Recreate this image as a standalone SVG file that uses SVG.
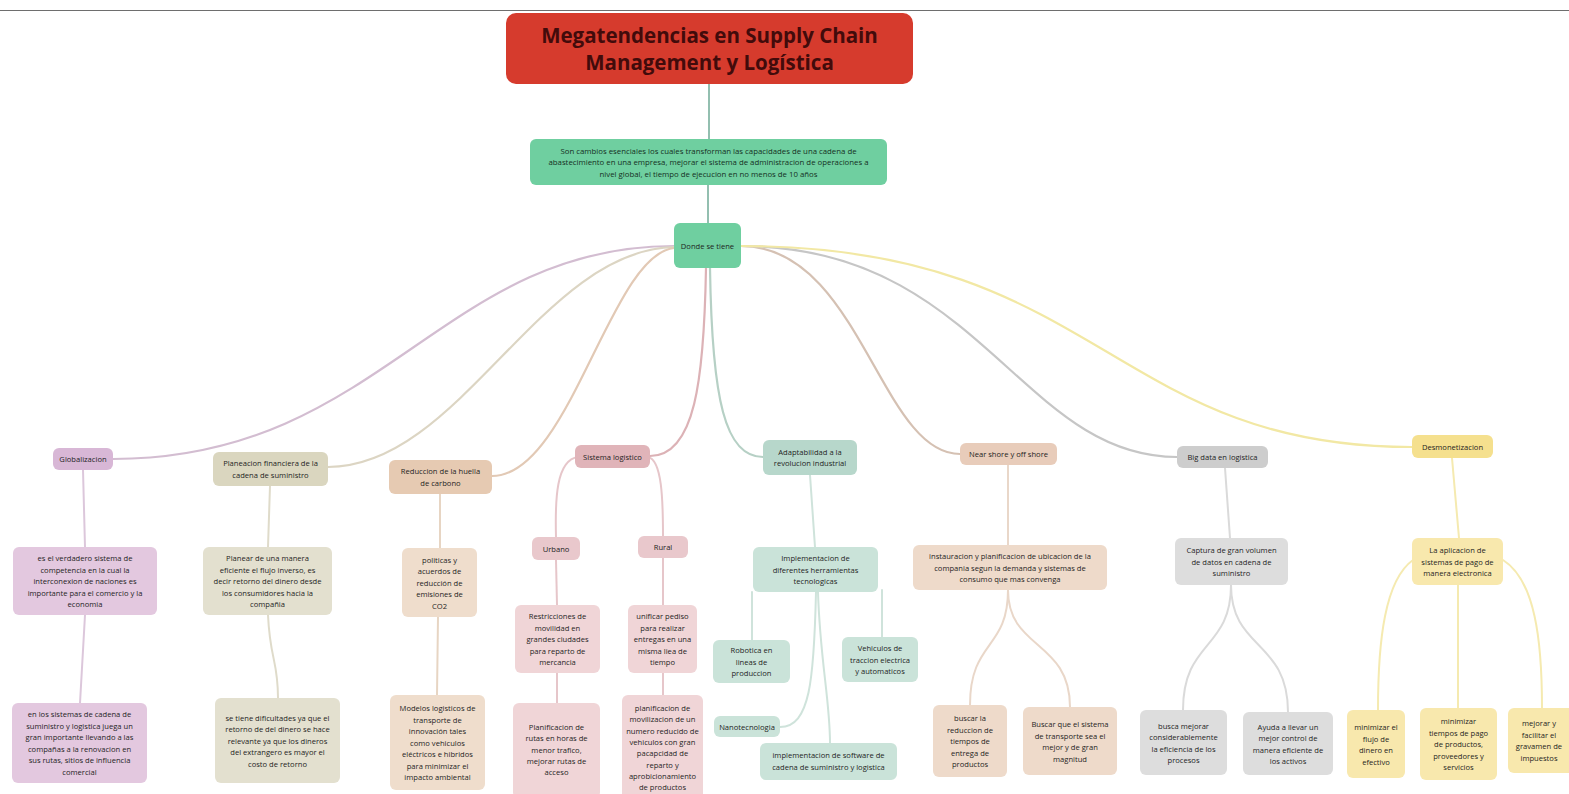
<svg xmlns="http://www.w3.org/2000/svg" width="1569" height="794" viewBox="0 0 1569 794">
<style>
  text { font-family: "Open Sans", "Liberation Sans", sans-serif; fill: #1e1e1e; text-anchor: middle; }
  .t { font-size: 7.6px; }
  .d { font-size: 7.8px; fill: #15301f; }
  .title { font-size: 20.5px; font-weight: bold; fill: #420b0b; }
  .c { fill: none; stroke-linecap: round; }
  .l1 { stroke-width: 2.2; }
  .l2 { stroke-width: 2; }
  .glob1 { fill: #d8b7d6; } .glob2 { fill: #e3c8df; }
  .plan1 { fill: #dad6bf; } .plan2 { fill: #e3e0cf; }
  .red1 { fill: #e6cab2; } .red2 { fill: #efddcc; }
  .sis1 { fill: #e0b4b9; } .sis2 { fill: #e9c8cc; } .sis3 { fill: #f0d5d7; }
  .ad1 { fill: #b7d7cb; } .ad2 { fill: #cae3d9; }
  .ns1 { fill: #e8ccba; } .ns2 { fill: #eedaca; }
  .bd1 { fill: #cdcdcd; } .bd2 { fill: #dddddd; }
  .de1 { fill: #f5e08e; } .de2 { fill: #f8e8ad; }
</style>

<line x1="0" y1="10.5" x2="1569" y2="10.5" stroke="#6e6e6e" stroke-width="1"/>

<g id="connectors">
  <path class="c l2" stroke="#93bfb0" d="M709 84 V139"/>
  <path class="c l2" stroke="#93bfb0" d="M708 185 V223"/>
  <!-- level 1 -->
  <path class="c l1" stroke="#d3bdd1" d="M674 246 C 440 246, 380 459, 113 459"/>
  <path class="c l1" stroke="#dcd5c3" d="M674 247 C 540 250, 460 467, 328 467"/>
  <path class="c l1" stroke="#e2c9b5" d="M674 248 C 610 255, 570 476, 492 476"/>
  <path class="c l1" stroke="#dcb2b6" d="M706 268 C 704 380, 695 456, 650 456"/>
  <path class="c l1" stroke="#b6d0c5" d="M710 268 C 712 400, 725 457, 763 457"/>
  <path class="c l1" stroke="#d5c1b3" d="M741 246 C 860 246, 880 454, 960 454"/>
  <path class="c l1" stroke="#c6c6c6" d="M741 246 C 980 246, 1020 457, 1177 457"/>
  <path class="c l1" stroke="#f2e8a4" d="M741 246 C 1100 246, 1110 447, 1412 447"/>
  <!-- Globalizacion -->
  <path class="c l2" stroke="#dcc7db" d="M83 470 L85 547"/>
  <path class="c l2" stroke="#dcc7db" d="M85 615 L80 703"/>
  <!-- Planeacion -->
  <path class="c l2" stroke="#dfdbca" d="M270 486 L268 547"/>
  <path class="c l2" stroke="#dfdbca" d="M268 615 C 270 660, 278 660, 278 698"/>
  <!-- Reduccion -->
  <path class="c l2" stroke="#e7d5c3" d="M440 494 L440 548"/>
  <path class="c l2" stroke="#e7d5c3" d="M438 617 L437 695"/>
  <!-- Sistema logistico -->
  <path class="c l2" stroke="#e6c6ca" d="M578 457 C 556 460, 555 500, 556 537"/>
  <path class="c l2" stroke="#e6c6ca" d="M648 457 C 662 460, 663 500, 663 536"/>
  <path class="c l2" stroke="#e6c6ca" d="M556 560 L557 605"/>
  <path class="c l2" stroke="#e6c6ca" d="M663 558 L663 605"/>
  <path class="c l2" stroke="#e6c6ca" d="M557 673 L557 703"/>
  <path class="c l2" stroke="#e6c6ca" d="M663 673 L663 695"/>
  <!-- Adaptabilidad -->
  <path class="c l2" stroke="#cfe3db" d="M810 475 L815 547"/>
  <path class="c l2" stroke="#cfe3db" d="M752 592 L752 640"/>
  <path class="c l2" stroke="#cfe3db" d="M882 590 L882 637"/>
  <path class="c l2" stroke="#cfe3db" d="M816 592 C 814 680, 810 727, 780 727"/>
  <path class="c l2" stroke="#cfe3db" d="M818 592 C 820 660, 830 700, 830 743"/>
  <!-- Near shore -->
  <path class="c l2" stroke="#e9d7c9" d="M1008 465 L1008 545"/>
  <path class="c l2" stroke="#e9d7c9" d="M1008 590 C 1008 650, 970 640, 970 705"/>
  <path class="c l2" stroke="#e9d7c9" d="M1008 590 C 1008 650, 1070 640, 1070 707"/>
  <!-- Big data -->
  <path class="c l2" stroke="#dadada" d="M1225 468 L1230 538"/>
  <path class="c l2" stroke="#dadada" d="M1231 585 C 1231 650, 1183 640, 1183 710"/>
  <path class="c l2" stroke="#dadada" d="M1231 585 C 1231 650, 1288 640, 1288 712"/>
  <!-- Desmonetizacion -->
  <path class="c l2" stroke="#f5eab0" d="M1452 458 L1459 538"/>
  <path class="c l2" stroke="#f5eab0" d="M1413 560 C 1385 580, 1378 640, 1378 710"/>
  <path class="c l2" stroke="#f5eab0" d="M1458 585 L1458 708"/>
  <path class="c l2" stroke="#f5eab0" d="M1503 560 C 1535 580, 1542 640, 1542 708"/>
</g>

<g id="title">
  <rect x="506" y="13" width="407" height="71" rx="10" fill="#d63b2d"/>
  <text class="title" x="709.5" y="43">Megatendencias en Supply Chain</text>
  <text class="title" x="709.5" y="70">Management y Logística</text>
</g>

<g id="descripcion">
  <rect x="530" y="139" width="357" height="46" rx="6" fill="#6fcfa0"/>
  <text class="d" x="708.5" y="153.5">Son cambios esenciales los cuales transforman las capacidades de una cadena de</text>
  <text class="d" x="708.5" y="165">abastecimiento en una empresa, mejorar el sistema de administracion de operaciones a</text>
  <text class="d" x="708.5" y="176.5">nivel global, el tiempo de ejecucion en no menos de 10 años</text>
</g>

<g id="donde">
  <rect x="674" y="223" width="67" height="45" rx="6" fill="#6fcfa0"/>
  <text class="t" x="707.5" y="248.5">Donde se tiene</text>
</g>

<g id="globalizacion">
  <rect class="glob1" x="53" y="448" width="60" height="22" rx="6"/>
  <text class="t" x="83" y="462">Globalizacion</text>
</g>
<g id="globalizacion-def">
  <rect class="glob2" x="13" y="547" width="144" height="68" rx="6"/>
  <text class="t" x="85" y="561">es el verdadero sistema de</text>
  <text class="t" x="85" y="572.5">competencia en la cual la</text>
  <text class="t" x="85" y="584">interconexion de naciones es</text>
  <text class="t" x="85" y="595.5">importante para el comercio y la</text>
  <text class="t" x="85" y="607">economia</text>
</g>
<g id="globalizacion-sc">
  <rect class="glob2" x="12" y="703" width="135" height="80" rx="6"/>
  <text class="t" x="79.5" y="717">en los sistemas de cadena de</text>
  <text class="t" x="79.5" y="728.5">suministro y logistica juega un</text>
  <text class="t" x="79.5" y="740">gran importante llevando a las</text>
  <text class="t" x="79.5" y="751.5">compañas a la renovacion en</text>
  <text class="t" x="79.5" y="763">sus rutas, sitios de influencia</text>
  <text class="t" x="79.5" y="774.5">comercial</text>
</g>

<g id="planeacion">
  <rect class="plan1" x="213" y="452" width="115" height="34" rx="6"/>
  <text class="t" x="270.5" y="466">Planeacion financiera de la</text>
  <text class="t" x="270.5" y="477.5">cadena de suministro</text>
</g>
<g id="planeacion-def">
  <rect class="plan2" x="203" y="547" width="129" height="68" rx="6"/>
  <text class="t" x="267.5" y="561">Planear de una manera</text>
  <text class="t" x="267.5" y="572.5">eficiente el flujo inverso, es</text>
  <text class="t" x="267.5" y="584">decir retorno del dinero desde</text>
  <text class="t" x="267.5" y="595.5">los consumidores hacia la</text>
  <text class="t" x="267.5" y="607">compañia</text>
</g>
<g id="planeacion-dif">
  <rect class="plan2" x="215" y="698" width="125" height="85" rx="6"/>
  <text class="t" x="277.5" y="720.5">se tiene dificultades ya que el</text>
  <text class="t" x="277.5" y="732">retorno de del dinero se hace</text>
  <text class="t" x="277.5" y="743.5">relevante ya que los dineros</text>
  <text class="t" x="277.5" y="755">del extrangero es mayor el</text>
  <text class="t" x="277.5" y="766.5">costo de retorno</text>
</g>

<g id="reduccion">
  <rect class="red1" x="389" y="460" width="103" height="34" rx="6"/>
  <text class="t" x="440.5" y="474">Reduccion de la huella</text>
  <text class="t" x="440.5" y="485.5">de carbono</text>
</g>
<g id="reduccion-pol">
  <rect class="red2" x="402" y="548" width="75" height="69" rx="6"/>
  <text class="t" x="439.5" y="562.5">politicas y</text>
  <text class="t" x="439.5" y="574">acuerdos de</text>
  <text class="t" x="439.5" y="585.5">reducción de</text>
  <text class="t" x="439.5" y="597">emisiones de</text>
  <text class="t" x="439.5" y="608.5">CO2</text>
</g>
<g id="reduccion-mod">
  <rect class="red2" x="390" y="695" width="95" height="95" rx="6"/>
  <text class="t" x="437.5" y="711">Modelos logisticos de</text>
  <text class="t" x="437.5" y="722.5">transporte de</text>
  <text class="t" x="437.5" y="734">innovación tales</text>
  <text class="t" x="437.5" y="745.5">como vehiculos</text>
  <text class="t" x="437.5" y="757">eléctricos e hibridos</text>
  <text class="t" x="437.5" y="768.5">para minimizar el</text>
  <text class="t" x="437.5" y="780">impacto ambiental</text>
</g>

<g id="sistema">
  <rect class="sis1" x="575" y="445" width="75" height="23" rx="6"/>
  <text class="t" x="612.5" y="459.5">Sistema logistico</text>
</g>
<g id="urbano">
  <rect class="sis2" x="532" y="537" width="48" height="23" rx="6"/>
  <text class="t" x="556" y="551.5">Urbano</text>
</g>
<g id="rural">
  <rect class="sis2" x="638" y="536" width="50" height="22" rx="6"/>
  <text class="t" x="663" y="550">Rural</text>
</g>
<g id="restricciones">
  <rect class="sis3" x="515" y="605" width="85" height="68" rx="6"/>
  <text class="t" x="557.5" y="619">Restricciones de</text>
  <text class="t" x="557.5" y="630.5">movilidad en</text>
  <text class="t" x="557.5" y="642">grandes ciudades</text>
  <text class="t" x="557.5" y="653.5">para reparto de</text>
  <text class="t" x="557.5" y="665">mercancia</text>
</g>
<g id="unificar">
  <rect class="sis3" x="628" y="605" width="69" height="68" rx="6"/>
  <text class="t" x="662.5" y="619">unificar pediso</text>
  <text class="t" x="662.5" y="630.5">para realizar</text>
  <text class="t" x="662.5" y="642">entregas en una</text>
  <text class="t" x="662.5" y="653.5">misma liea de</text>
  <text class="t" x="662.5" y="665">tiempo</text>
</g>
<g id="planificacion-rutas">
  <rect class="sis3" x="513" y="703" width="87" height="95" rx="6"/>
  <text class="t" x="556.5" y="730">Planificacion de</text>
  <text class="t" x="556.5" y="741.3">rutas en horas de</text>
  <text class="t" x="556.5" y="752.6">menor trafico,</text>
  <text class="t" x="556.5" y="763.9">mejorar rutas de</text>
  <text class="t" x="556.5" y="775.2">acceso</text>
</g>
<g id="planificacion-mov">
  <rect class="sis3" x="622" y="695" width="81" height="104" rx="6"/>
  <text class="t" x="662.5" y="711">planificacion de</text>
  <text class="t" x="662.5" y="722.3">movilizacion de un</text>
  <text class="t" x="662.5" y="733.6">numero reducido de</text>
  <text class="t" x="662.5" y="744.9">vehiculos con gran</text>
  <text class="t" x="662.5" y="756.2">pacapcidad de</text>
  <text class="t" x="662.5" y="767.5">reparto y</text>
  <text class="t" x="662.5" y="778.8">aprobicionamiento</text>
  <text class="t" x="662.5" y="790.1">de productos</text>
</g>

<g id="adaptabilidad">
  <rect class="ad1" x="763" y="440" width="94" height="35" rx="6"/>
  <text class="t" x="810" y="454.5">Adaptabilidad a la</text>
  <text class="t" x="810" y="466">revolucion industrial</text>
</g>
<g id="implementacion">
  <rect class="ad2" x="753" y="547" width="125" height="45" rx="6"/>
  <text class="t" x="815.5" y="561">Implementacion de</text>
  <text class="t" x="815.5" y="572.5">diferentes herramientas</text>
  <text class="t" x="815.5" y="584">tecnologicas</text>
</g>
<g id="robotica">
  <rect class="ad2" x="713" y="640" width="77" height="43" rx="6"/>
  <text class="t" x="751.5" y="653">Robotica en</text>
  <text class="t" x="751.5" y="664.5">lineas de</text>
  <text class="t" x="751.5" y="676">produccion</text>
</g>
<g id="vehiculos">
  <rect class="ad2" x="842" y="637" width="76" height="45" rx="6"/>
  <text class="t" x="880" y="651">Vehiculos de</text>
  <text class="t" x="880" y="662.5">traccion electrica</text>
  <text class="t" x="880" y="674">y automaticos</text>
</g>
<g id="nanotecnologia">
  <rect class="ad2" x="714" y="716" width="66" height="21" rx="6"/>
  <text class="t" x="747" y="729.5">Nanotecnologia</text>
</g>
<g id="software">
  <rect class="ad2" x="760" y="743" width="137" height="37" rx="6"/>
  <text class="t" x="828.5" y="758">implementacion de software de</text>
  <text class="t" x="828.5" y="769.5">cadena de suministro y logistica</text>
</g>

<g id="nearshore">
  <rect class="ns1" x="960" y="443" width="97" height="22" rx="6"/>
  <text class="t" x="1008.5" y="457">Near shore y off shore</text>
</g>
<g id="instauracion">
  <rect class="ns2" x="913" y="545" width="194" height="45" rx="6"/>
  <text class="t" x="1010" y="559">instauracion y planificacion de ubicacion de la</text>
  <text class="t" x="1010" y="570.5">compania segun la demanda y sistemas de</text>
  <text class="t" x="1010" y="582">consumo que mas convenga</text>
</g>
<g id="buscar-reduccion">
  <rect class="ns2" x="933" y="705" width="74" height="72" rx="6"/>
  <text class="t" x="970" y="721">buscar la</text>
  <text class="t" x="970" y="732.5">reduccion de</text>
  <text class="t" x="970" y="744">tiempos de</text>
  <text class="t" x="970" y="755.5">entrega de</text>
  <text class="t" x="970" y="767">productos</text>
</g>
<g id="buscar-transporte">
  <rect class="ns2" x="1023" y="707" width="94" height="68" rx="6"/>
  <text class="t" x="1070" y="727">Buscar que el sistema</text>
  <text class="t" x="1070" y="738.5">de transporte sea el</text>
  <text class="t" x="1070" y="750">mejor y de gran</text>
  <text class="t" x="1070" y="761.5">magnitud</text>
</g>

<g id="bigdata">
  <rect class="bd1" x="1177" y="446" width="91" height="22" rx="6"/>
  <text class="t" x="1222.5" y="460">Big data en logistica</text>
</g>
<g id="captura">
  <rect class="bd2" x="1175" y="538" width="113" height="47" rx="6"/>
  <text class="t" x="1231.5" y="553">Captura de gran volumen</text>
  <text class="t" x="1231.5" y="564.5">de datos en cadena de</text>
  <text class="t" x="1231.5" y="576">suministro</text>
</g>
<g id="busca-mejorar">
  <rect class="bd2" x="1140" y="710" width="87" height="65" rx="6"/>
  <text class="t" x="1183.5" y="728.5">busca mejorar</text>
  <text class="t" x="1183.5" y="740">considerablemente</text>
  <text class="t" x="1183.5" y="751.5">la eficiencia de los</text>
  <text class="t" x="1183.5" y="763">procesos</text>
</g>
<g id="ayuda">
  <rect class="bd2" x="1243" y="712" width="90" height="63" rx="6"/>
  <text class="t" x="1288" y="729.5">Ayuda a llevar un</text>
  <text class="t" x="1288" y="741">mejor control de</text>
  <text class="t" x="1288" y="752.5">manera eficiente de</text>
  <text class="t" x="1288" y="764">los activos</text>
</g>

<g id="desmonetizacion">
  <rect class="de1" x="1412" y="435" width="81" height="23" rx="6"/>
  <text class="t" x="1452.5" y="449.5">Desmonetizacion</text>
</g>
<g id="aplicacion">
  <rect class="de2" x="1412" y="538" width="91" height="47" rx="6"/>
  <text class="t" x="1457.5" y="553">La aplicacion de</text>
  <text class="t" x="1457.5" y="564.5">sistemas de pago de</text>
  <text class="t" x="1457.5" y="576">manera electronica</text>
</g>
<g id="minimizar-flujo">
  <rect class="de2" x="1347" y="710" width="58" height="68" rx="6"/>
  <text class="t" x="1376" y="730">minimizar el</text>
  <text class="t" x="1376" y="741.5">flujo de</text>
  <text class="t" x="1376" y="753">dinero en</text>
  <text class="t" x="1376" y="764.5">efectivo</text>
</g>
<g id="minimizar-tiempos">
  <rect class="de2" x="1420" y="708" width="77" height="72" rx="6"/>
  <text class="t" x="1458.5" y="724">minimizar</text>
  <text class="t" x="1458.5" y="735.5">tiempos de pago</text>
  <text class="t" x="1458.5" y="747">de productos,</text>
  <text class="t" x="1458.5" y="758.5">proveedores y</text>
  <text class="t" x="1458.5" y="770">servicios</text>
</g>
<g id="mejorar-gravamen">
  <rect class="de2" x="1508" y="708" width="68" height="65" rx="6"/>
  <text class="t" x="1539" y="726">mejorar y</text>
  <text class="t" x="1539" y="737.5">facilitar el</text>
  <text class="t" x="1539" y="749">gravamen de</text>
  <text class="t" x="1539" y="760.5">impuestos</text>
</g>
</svg>
